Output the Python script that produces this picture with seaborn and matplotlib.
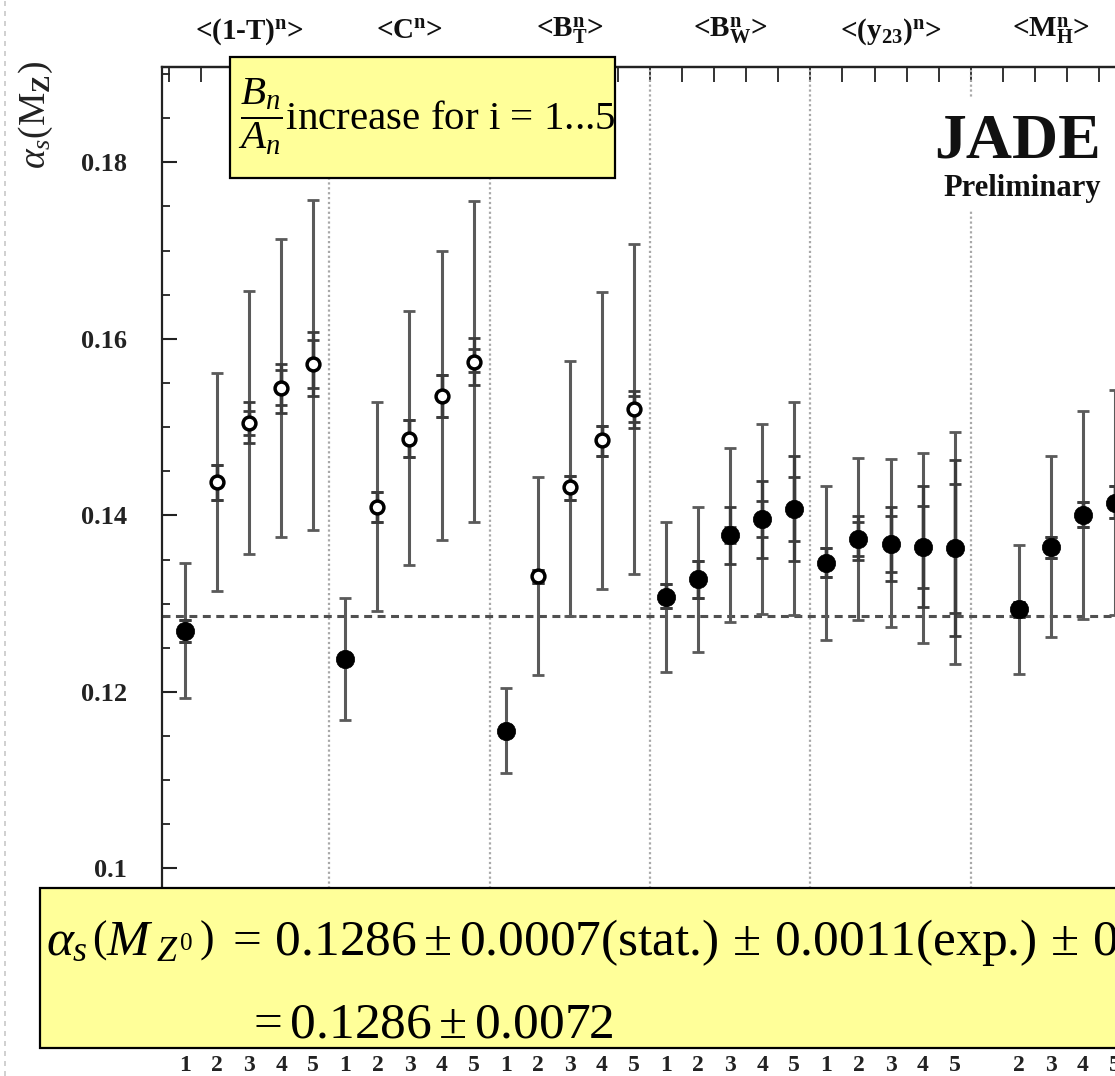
import numpy as np
import pandas as pd
import matplotlib
matplotlib.use("Agg")
import matplotlib.pyplot as plt
import matplotlib.transforms as mtransforms
from matplotlib.patches import Rectangle
from matplotlib.lines import Line2D
from matplotlib.ticker import MultipleLocator
import seaborn as sns

# ---------------- data ----------------
group_labels = ['<(1-T)$^\\mathbf{n}$>', '<C$^\\mathbf{n}$>', '<B$_\\mathbf{T}^\\mathbf{n}$>',
                '<B$_\\mathbf{W}^\\mathbf{n}$>', '<(y$_\\mathbf{23}$)$^\\mathbf{n}$>',
                '<M$_\\mathbf{H}^\\mathbf{n}$>']
group_index = [0] * 5 + [1] * 5 + [2] * 5 + [3] * 5 + [4] * 5 + [5] * 4
moment = [1, 2, 3, 4, 5] * 5 + [2, 3, 4, 5]
hollow = [0, 1, 1, 1, 1] * 3 + [0] * 14

alpha_s = [0.1269, 0.1438, 0.1505, 0.1544, 0.1571,
           0.1237, 0.1410, 0.1487, 0.1535, 0.1574,
           0.1156, 0.1331, 0.1432, 0.1485, 0.1520,
           0.1308, 0.1328, 0.1378, 0.1396, 0.1407,
           0.1346, 0.1373, 0.1368, 0.1364, 0.1363,
           0.1294, 0.1364, 0.1401, 0.1414]
total_hi = [0.1346, 0.1561, 0.1654, 0.1713, 0.1757,
            0.1306, 0.1528, 0.1632, 0.1700, 0.1756,
            0.1204, 0.1443, 0.1575, 0.1653, 0.1707,
            0.1392, 0.1410, 0.1476, 0.1504, 0.1528,
            0.1433, 0.1465, 0.1464, 0.1471, 0.1494,
            0.1367, 0.1467, 0.1518, 0.1542]
total_lo = [0.1193, 0.1314, 0.1356, 0.1376, 0.1384,
            0.1168, 0.1292, 0.1344, 0.1372, 0.1392,
            0.1108, 0.1219, 0.1286, 0.1317, 0.1334,
            0.1223, 0.1245, 0.1279, 0.1288, 0.1287,
            0.1259, 0.1282, 0.1273, 0.1256, 0.1232,
            0.1220, 0.1262, 0.1283, 0.1287]
inner_hi = [0.1282, 0.1457, 0.1529, 0.1572, 0.1608,
            0.1244, 0.1426, 0.1508, 0.1559, 0.1601,
            0.1163, 0.1338, 0.1445, 0.1501, 0.1541,
            0.1322, 0.1348, 0.1410, 0.1439, 0.1467,
            0.1363, 0.1399, 0.1410, 0.1433, 0.1463,
            0.1302, 0.1376, 0.1415, 0.1433]
inner_lo = [0.1257, 0.1418, 0.1482, 0.1516, 0.1535,
            0.1230, 0.1393, 0.1466, 0.1512, 0.1548,
            0.1149, 0.1323, 0.1418, 0.1467, 0.1499,
            0.1295, 0.1306, 0.1345, 0.1352, 0.1348,
            0.1330, 0.1349, 0.1326, 0.1296, 0.1263,
            0.1285, 0.1352, 0.1387, 0.1397]
core_hi = [0.1282, 0.1457, 0.1518, 0.1565, 0.1599,
           0.1244, 0.1426, 0.1508, 0.1559, 0.1588,
           0.1163, 0.1338, 0.1445, 0.1501, 0.1535,
           0.1322, 0.1348, 0.1387, 0.1416, 0.1444,
           0.1363, 0.1393, 0.1399, 0.1411, 0.1436,
           0.1302, 0.1376, 0.1415, 0.1433]
core_lo = [0.1257, 0.1418, 0.1491, 0.1525, 0.1544,
           0.1230, 0.1393, 0.1466, 0.1512, 0.1563,
           0.1149, 0.1323, 0.1418, 0.1467, 0.1506,
           0.1295, 0.1306, 0.1369, 0.1376, 0.1371,
           0.1330, 0.1354, 0.1336, 0.1318, 0.1289,
           0.1285, 0.1352, 0.1387, 0.1397]
combined_alpha = 0.1286
y_ticks = [0.10, 0.12, 0.14, 0.16, 0.18]
y_tick_labels = ["0.1", "0.12", "0.14", "0.16", "0.18"]

df = pd.DataFrame(dict(group=group_index, n=moment, hollow=hollow, value=alpha_s,
                       thi=total_hi, tlo=total_lo, ihi=inner_hi, ilo=inner_lo,
                       chi=core_hi, clo=core_lo))
df["pos"] = df["group"] * 5 + (df["n"] - 1)

# ---------------- style ----------------
sns.set_theme(style="ticks")
plt.rcParams['font.family'] = ['Liberation Serif', 'DejaVu Serif']
plt.rcParams['mathtext.fontset'] = 'custom'
plt.rcParams['mathtext.rm'] = 'Liberation Serif'
plt.rcParams['mathtext.it'] = 'Liberation Serif:italic'
plt.rcParams['mathtext.bf'] = 'Liberation Serif:bold'

W, H = 1115, 1076
fig = plt.figure(figsize=(W / 100, H / 100), dpi=100)
fig.patch.set_facecolor('white')

ax_left, ax_right, ax_top, ax_bottom = 162, 1250, 67, 1045
ax = fig.add_axes([ax_left / W, (H - ax_bottom) / H, (ax_right - ax_left) / W,
                   (ax_bottom - ax_top) / H])
ax.set_facecolor('white')
px_per_unit = 32.07
first_pt = 185
ax.set_xlim((ax_left - first_pt) / px_per_unit, (ax_right - first_pt) / px_per_unit)
ax.set_ylim(0.08, 0.1908)

# group boundaries
for g in range(1, 6):
    ax.axvline(g * 5 - 0.5, color='#a8a8a8', lw=1.6, ls=(0, (1, 1.2)), zorder=1)

# combined value
ax.axhline(combined_alpha, color='#505050', lw=2.2, ls=(0, (2.6, 1.8)), zorder=2)

# error bars
x = df["pos"].values
v = df["value"].values
ax.errorbar(x, v, yerr=[v - df["tlo"].values, df["thi"].values - v], fmt='none',
            ecolor='#5a5a5a', elinewidth=2.2, capsize=4.5, capthick=2.0, zorder=3)
ax.errorbar(x, v, yerr=[v - df["ilo"].values, df["ihi"].values - v], fmt='none',
            ecolor='#3c3c3c', elinewidth=2.4, capsize=4.5, capthick=2.0, zorder=3)
ax.errorbar(x, v, yerr=[v - df["clo"].values, df["chi"].values - v], fmt='none',
            ecolor='#3c3c3c', elinewidth=2.4, capsize=4.5, capthick=2.0, zorder=3)

# markers
sns.scatterplot(data=df[df.hollow == 0], x="pos", y="value", ax=ax, s=175,
                color='black', edgecolor='black', linewidth=0.5, zorder=5, legend=False)
sns.scatterplot(data=df[df.hollow == 1], x="pos", y="value", ax=ax, s=85,
                facecolor='white', edgecolor='black', linewidth=2.5, zorder=5, legend=False)
ax.set_xlabel("")
ax.set_ylabel("")

# axes styling
for side in ['left', 'top', 'bottom', 'right']:
    ax.spines[side].set_color('#222222')
    ax.spines[side].set_linewidth(1.6)
ax.set_yticks(y_ticks, labels=y_tick_labels)
ax.yaxis.set_minor_locator(MultipleLocator(0.005))
ax.tick_params(axis='y', which='major', direction='in', length=11, width=1.5,
               pad=25, labelsize=19, colors='#222222')
ax.tick_params(axis='y', which='minor', direction='in', length=6, width=1.3,
               colors='#222222')
for lab in ax.get_yticklabels():
    lab.set_fontweight('bold')
ax.set_xticks(df["pos"].values, labels=[str(n) for n in df["n"]])
ax.tick_params(axis='x', which='major', direction='in', length=0, pad=7,
               labelsize=17, colors='#222222')
for lab in ax.get_xticklabels():
    lab.set_fontweight('bold')

sec = ax.secondary_xaxis('top')
sec.set_xticks(np.arange(-0.5, 34, 1.0))
sec.tick_params(direction='in', length=11, width=1.4, labeltop=False, colors='#333333')
sec.spines['top'].set_linewidth(1.6)

# group labels above the frame
trans = mtransforms.blended_transform_factory(ax.transData, ax.transAxes)
for g, lab in enumerate(group_labels):
    ax.text(g * 5 + 2, 1.036, lab, transform=trans, ha='center', va='center',
            fontsize=21, fontweight='bold', color='#111111')

# JADE label
fig.text(1101 / W, (H - 158) / H, "JADE", ha='right', va='baseline', fontsize=46,
         fontweight='bold', color='#111111',
         bbox=dict(facecolor='white', edgecolor='none', pad=12))
fig.text(1101 / W, (H - 196) / H, "Preliminary", ha='right', va='baseline', fontsize=22,
         fontweight='bold', color='#111111',
         bbox=dict(facecolor='white', edgecolor='none', pad=6))

# y label
fig.text(36 / W, (H - 115) / H, r'$\alpha_s$(M$_\mathbf{Z}$)', rotation=90,
         ha='center', va='center', fontsize=27, color='#222222')

# faint slide border at far left
fig.add_artist(Line2D([5 / W, 5 / W], [0, 1], transform=fig.transFigure,
                      color='#c8c8c8', lw=1.2, ls=(0, (3, 3))))

# yellow annotation boxes
yellow = '#FFFF99'
fig.add_artist(Rectangle((230 / W, (H - 178) / H), 385 / W, 121 / H,
                         transform=fig.transFigure, facecolor=yellow,
                         edgecolor='black', lw=1.6, zorder=10))
fig.text(238 / W, (H - 117) / H,
         r'$\dfrac{B_n}{A_n}$increase for i = 1...5',
         ha='left', va='center', fontsize=29.5, color='black', zorder=11)

fig.add_artist(Rectangle((40 / W, (H - 1048) / H), 1200 / W, 160 / H,
                         transform=fig.transFigure, facecolor=yellow,
                         edgecolor='black', lw=1.6, zorder=10))
fig.text(46 / W, (H - 955) / H,
         r'$\alpha_{s\,}\left(M_{\;Z^0}\,\right)\;=\,0.1286\pm0.0007$(stat.)$\,\pm\,0.0011$(exp.)$\,\pm\,0.0071$(theo.)',
         ha='left', va='baseline', fontsize=37, color='black', zorder=11)
fig.text(246 / W, (H - 1037) / H, r'$= 0.1286\pm0.0072$',
         ha='left', va='baseline', fontsize=37, color='black', zorder=11)

fig.savefig("out.png", dpi=100)
